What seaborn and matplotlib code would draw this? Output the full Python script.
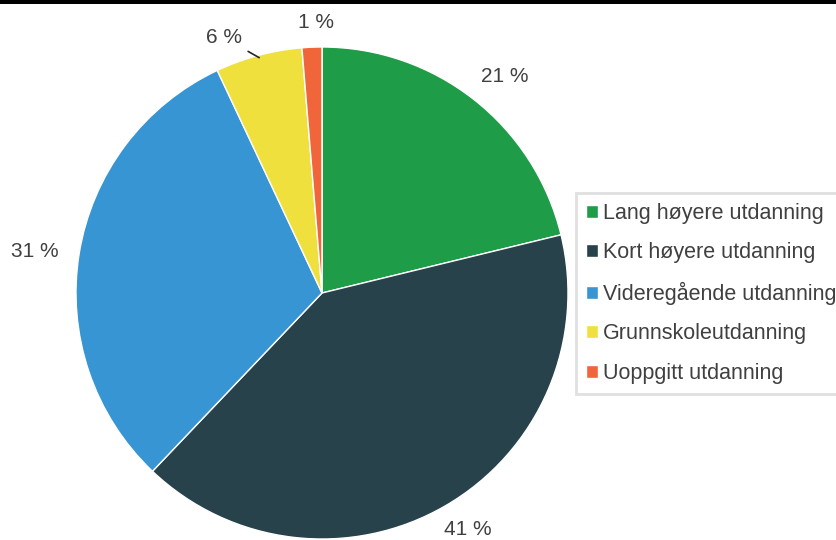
import numpy as np
import matplotlib.pyplot as plt
import seaborn as sns
from matplotlib.patches import Rectangle

# Education level shares (percent)
categories = ['Lang høyere utdanning', 'Kort høyere utdanning',
              'Videregående utdanning', 'Grunnskoleutdanning', 'Uoppgitt utdanning']
shares = [21.2, 40.9, 30.9, 5.7, 1.3]
pct_labels = ['21 %', '41 %', '31 %', '6 %', '1 %']
colors = ['#1e9c48', '#27424a', '#3895d3', '#f0e03e', '#f1653a']

sns.set_style('white')
plt.rcParams['font.family'] = ['Liberation Sans', 'DejaVu Sans']
text_color = '#404040'

fig = plt.figure(figsize=(8.37, 5.40), dpi=100)
ax = fig.add_axes([76 / 837, 1 / 540, 492 / 837, 492 / 540])

wedges, _ = ax.pie(shares, colors=colors, startangle=90, counterclock=False,
                   radius=1.0, wedgeprops=dict(edgecolor='white', linewidth=1))
ax.set_xlim(-1, 1)
ax.set_ylim(-1, 1)
ax.set_aspect('equal')

# label placement: (radius, angle offset in degrees from slice middle)
placement = [(1.15, -2), (1.13, 1.6), (1.18, 1), (1.11, 6), (1.10, -1)]

for w, lab, (r, off) in zip(wedges, pct_labels, placement):
    mid = np.deg2rad((w.theta1 + w.theta2) / 2)
    ang = mid + np.deg2rad(off)
    tx, ty = r * np.cos(ang), r * np.sin(ang)
    if lab == '6 %':
        ax.annotate(lab, xy=(0.99 * np.cos(mid), 0.99 * np.sin(mid)), xytext=(tx, ty),
                    ha='center', va='center', fontsize=15, color=text_color,
                    arrowprops=dict(arrowstyle='-', color='#262626', lw=1.2,
                                    shrinkA=2, shrinkB=0))
    else:
        ax.text(tx, ty, lab, ha='center', va='center',
                fontsize=15, color=text_color, clip_on=False)

leg = fig.legend(wedges, categories, loc='upper left',
                 bbox_to_anchor=(576 / 837, 1 - 193 / 540),
                 fontsize=15.5, frameon=True, fancybox=False,
                 handlelength=0.55, handleheight=0.55, handletextpad=0.25,
                 labelspacing=0.86, borderpad=0.45, borderaxespad=0)
leg.get_frame().set_edgecolor('#d9d9d9')
leg.get_frame().set_linewidth(2)
for t in leg.get_texts():
    t.set_color(text_color)

# black rule along the top edge
fig.patches.append(Rectangle((0, 1 - 4 / 540), 1, 4 / 540, transform=fig.transFigure,
                             facecolor='black', edgecolor='none'))

fig.savefig('out.png', dpi=100)
